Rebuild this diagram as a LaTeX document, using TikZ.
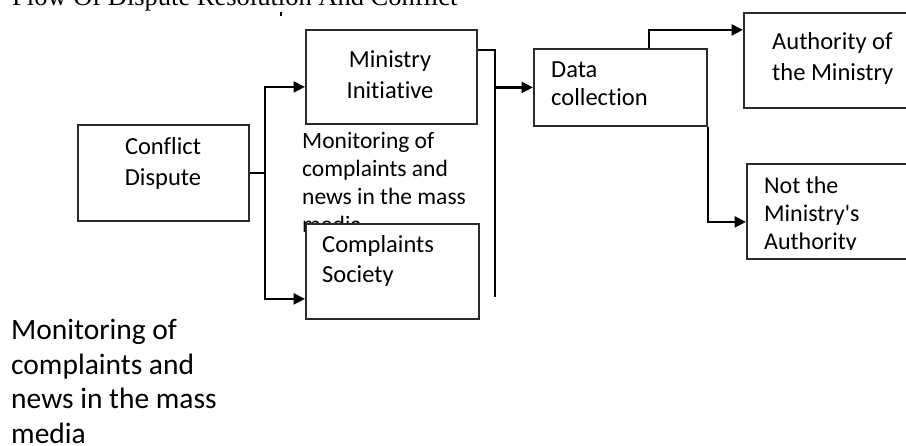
\documentclass[tikz,border=0pt]{standalone}
\usepackage{fontspec}
\setmainfont[Ligatures={NoCommon}]{Carlito}
\newfontfamily\titlefont{Liberation Serif}
\usetikzlibrary{arrows.meta}
\definecolor{boxgray}{HTML}{2B2B2B}
\begin{document}
\begin{tikzpicture}[x=1pt,y=-1pt,
  box/.style={draw=boxgray, line width=1.8pt, fill=white, inner sep=0pt, anchor=north west},
  conn/.style={line width=2.4pt, draw=black},
  arr/.style={conn, -{Triangle[length=11.5pt,width=11pt]}},
  ctext/.style={inner sep=0pt, anchor=base, text=black},
  ltext/.style={inner sep=0pt, anchor=base west, text=black}]
\clip (0,0) rectangle (906,446);
\fill[white] (0,0) rectangle (906,446);

% title
\node[ltext] (title) at (12,6) {\titlefont\fontsize{26.5pt}{30pt}\selectfont Flow Of Dispute Resolution And Conflict};
\draw[line width=1.5pt] (281,12) -- (281,16);

% middle note (partly hidden by the Complaints box)
\node[ltext] (note1) at (302,149) {\parbox[t]{200pt}{\raggedright\fontsize{23.5pt}{27.7pt}\selectfont Monitoring of\\complaints and\\news in the mass\\media}};

% boxes
\node[box, minimum width=171pt, minimum height=96pt] (cd) at (77,124) {};
\node[box, minimum width=171pt, minimum height=94pt] (mi) at (305,29) {};
\node[box, minimum width=173pt, minimum height=95pt] (cs) at (305,223) {};
\node[box, minimum width=173pt, minimum height=77pt] (dc) at (533,48) {};
\node[box, minimum width=190pt, minimum height=95pt] (au) at (743,12) {};
\node[box, minimum width=190pt, minimum height=95pt] (nm) at (746,163) {};

% box texts
\node[ctext] (cdt) at (163,155) {\parbox[t]{160pt}{\centering\fontsize{24.5pt}{31pt}\selectfont Conflict\\Dispute}};
\node[ctext] (mit) at (390,68) {\parbox[t]{160pt}{\centering\fontsize{24.5pt}{31pt}\selectfont Ministry\\Initiative}};
\node[ltext] (cst) at (322,253) {\parbox[t]{150pt}{\raggedright\fontsize{24.5pt}{30pt}\selectfont Complaints\\Society}};
\node[ltext] (dct) at (551,78) {\parbox[t]{150pt}{\raggedright\fontsize{24.5pt}{28pt}\selectfont Data\\collection}};
\node[ltext] (aut) at (772,50) {\parbox[t]{150pt}{\raggedright\fontsize{24.5pt}{31pt}\selectfont Authority of\\the Ministry}};
\begin{scope}
  \clip (746,163) rectangle (906,250);
  \node[ltext] (nmt) at (764,194) {\parbox[t]{150pt}{\raggedright\fontsize{24pt}{28pt}\selectfont Not the\\Ministry\textquotesingle s\\Authority}};
\end{scope}

% bottom-left note
\node[ltext] (note2) at (11,340) {\parbox[t]{260pt}{\raggedright\fontsize{29.5pt}{34.5pt}\selectfont Monitoring of\\complaints and\\news in the mass\\media}};

% connectors
\coordinate (j1) at (265,172);
\draw[conn] (cd.east) -- (cd.east -| j1);
\draw[arr] (j1) |- ([yshift=-10pt]mi.west);
\draw[arr] (j1) |- ([yshift=-27.5pt]cs.west);
\coordinate (v2) at (495,297);
\draw[conn] ([yshift=27pt]mi.east) -| (v2);
\draw[arr] (dc.west -| v2) -- (dc.west);
\draw[arr] ([xshift=28.5pt]dc.north) |- ([yshift=30.5pt]au.west);
\draw[arr] (dc.south east) |- ([yshift=-10.5pt]nm.west);
\end{tikzpicture}
\end{document}
